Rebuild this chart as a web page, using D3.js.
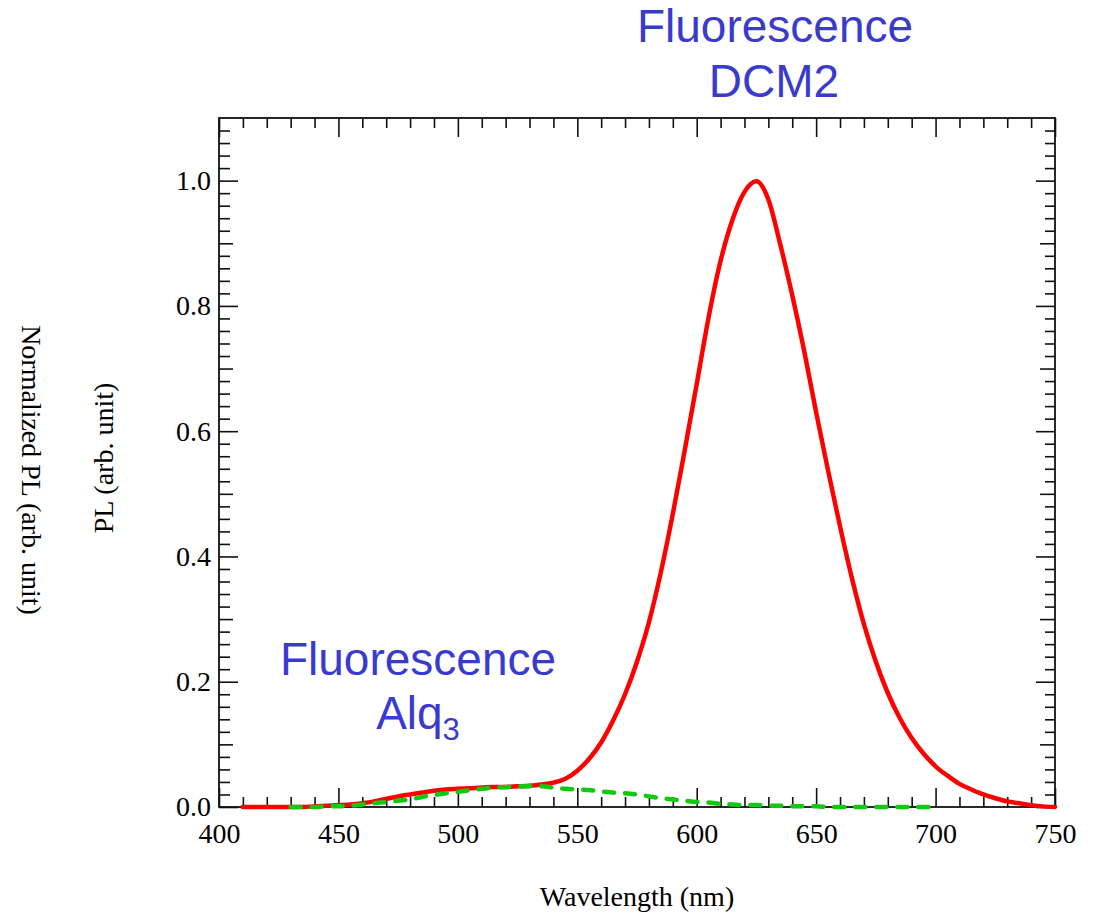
<!DOCTYPE html>
<html>
<head>
<meta charset="utf-8">
<script src="https://cdn.jsdelivr.net/npm/d3@7"></script>
<style>
  body { margin: 0; background: #fff; }
  text { font-family: "Liberation Serif", "Times New Roman", serif; }
  .note { font-family: "Liberation Sans", Arial, sans-serif; fill: #3a3acf; }
</style>
</head>
<body>
<div id="chart"></div>
<script>
// wavelength grid (nm) and the two spectra
const wlDCM2 = [410, 415, 420, 425, 430, 435, 440, 445, 450, 455, 460, 465, 470, 475, 480, 485, 490, 495, 500,
  505, 510, 515, 520, 525, 530, 535, 540, 545, 550, 555, 560, 565, 570, 575, 580, 585, 590, 595, 600,
  605, 610, 615, 620, 625, 630, 635, 640, 645, 650, 655, 660, 665, 670, 675, 680, 685, 690, 695, 700,
  705, 710, 715, 720, 725, 730, 735, 740, 745, 750];
const plDCM2 = [0.000, 0.000, 0.000, 0.000, 0.000, 0.000, 0.001, 0.002, 0.003, 0.004, 0.006, 0.009, 0.013, 0.017, 0.020, 0.023, 0.026, 0.028, 0.029,
  0.030, 0.031, 0.032, 0.032, 0.033, 0.034, 0.036, 0.039, 0.045, 0.058, 0.077, 0.103, 0.138, 0.180, 0.232, 0.295, 0.375, 0.468, 0.570, 0.675,
  0.782, 0.872, 0.938, 0.982, 0.999, 0.970, 0.898, 0.817, 0.728, 0.630, 0.537, 0.448, 0.365, 0.292, 0.232, 0.182, 0.142, 0.110, 0.085, 0.065,
  0.050, 0.037, 0.028, 0.020, 0.014, 0.009, 0.006, 0.003, 0.001, 0.000];

const wlAlq3 = [430, 435, 440, 445, 450, 455, 460, 465, 470, 475, 480, 485, 490, 495, 500, 505, 510, 515, 520,
  525, 530, 535, 540, 545, 550, 555, 560, 565, 570, 575, 580, 585, 590, 595, 600, 605, 610, 615, 620,
  625, 630, 635, 640, 645, 650, 655, 660, 665, 670, 675, 680, 685, 690, 695, 700];
const plAlq3 = [0.000, 0.000, 0.000, 0.001, 0.001, 0.002, 0.004, 0.006, 0.008, 0.010, 0.012, 0.016, 0.019, 0.022, 0.024, 0.027, 0.029, 0.031, 0.032,
  0.033, 0.033, 0.033, 0.031, 0.029, 0.028, 0.027, 0.025, 0.023, 0.022, 0.020, 0.017, 0.014, 0.012, 0.010, 0.008, 0.007, 0.005, 0.004, 0.003,
  0.003, 0.002, 0.002, 0.001, 0.001, 0.001, 0.000, 0.000, 0.000, 0.000, 0.000, 0.000, 0.000, 0.000, 0.000, 0.000];

const xMajor = [400, 450, 500, 550, 600, 650, 700, 750];
const yMajor = [0, 0.2, 0.4, 0.6, 0.8, 1.0];

const W = 1093, H = 915;
const margin = { top: 118, right: 38, bottom: 108, left: 219 };
const width = W - margin.left - margin.right;
const height = H - margin.top - margin.bottom;

const svg = d3.select("#chart").append("svg")
  .attr("width", W)
  .attr("height", H);

const g = svg.append("g")
  .attr("transform", `translate(${margin.left},${margin.top})`);

const x = d3.scaleLinear().domain([400, 750]).range([0, width]);
const y = d3.scaleLinear().domain([0, 1.1]).range([height, 0]);

const xMinor = d3.range(400, 751, 10).filter(v => v % 50 !== 0);
const yMid = d3.range(1, 11, 2).map(v => v / 10);
const yMinor = d3.range(0, 56).map(v => +(v * 0.02).toFixed(2))
  .filter(v => Math.round(v * 100) % 10 !== 0);

function tickAxis(axis, vals, len, fmt) {
  return axis.tickValues(vals).tickSize(len).tickFormat(fmt ? null : "");
}

function drawTicks(sel) {
  sel.select(".domain").remove();
  sel.selectAll("line").attr("stroke", "#111").attr("stroke-width", 1.6);
  sel.selectAll("text").attr("fill", "#000").style("font-size", "28px")
    .style("font-family", "Liberation Serif, serif");
}

// bottom
g.append("g").attr("transform", `translate(0,${height})`)
  .call(tickAxis(d3.axisBottom(x), xMajor, -19, true).tickPadding(16).tickFormat(d3.format("d")))
  .call(drawTicks);
g.append("g").attr("transform", `translate(0,${height})`)
  .call(tickAxis(d3.axisBottom(x), xMinor, -10)).call(drawTicks);
// top
g.append("g").call(tickAxis(d3.axisTop(x), xMajor, -19)).call(drawTicks);
g.append("g").call(tickAxis(d3.axisTop(x), xMinor, -10)).call(drawTicks);
// left
g.append("g")
  .call(tickAxis(d3.axisLeft(y), yMajor, -19, true).tickPadding(8).tickFormat(d3.format(".1f")))
  .call(drawTicks);
g.append("g").call(tickAxis(d3.axisLeft(y), yMid, -14)).call(drawTicks);
g.append("g").call(tickAxis(d3.axisLeft(y), yMinor, -11)).call(drawTicks);
// right
g.append("g").attr("transform", `translate(${width},0)`)
  .call(tickAxis(d3.axisRight(y), yMajor, -19)).call(drawTicks);
g.append("g").attr("transform", `translate(${width},0)`)
  .call(tickAxis(d3.axisRight(y), yMid, -15)).call(drawTicks);
g.append("g").attr("transform", `translate(${width},0)`)
  .call(tickAxis(d3.axisRight(y), yMinor, -10)).call(drawTicks);

g.append("rect")
  .attr("width", width)
  .attr("height", height)
  .attr("fill", "none")
  .attr("stroke", "#111")
  .attr("stroke-width", 1.8);

const line = d3.line()
  .x(d => x(d[0]))
  .y(d => y(d[1]))
  .curve(d3.curveMonotoneX);

g.append("path")
  .datum(d3.zip(wlDCM2, plDCM2))
  .attr("fill", "none")
  .attr("stroke", "#ff0000")
  .attr("stroke-width", 4.5)
  .attr("stroke-linejoin", "round")
  .attr("stroke-linecap", "round")
  .attr("d", line);

g.append("path")
  .datum(d3.zip(wlAlq3, plAlq3))
  .attr("fill", "none")
  .attr("stroke", "#11c911")
  .attr("stroke-width", 4.5)
  .attr("stroke-dasharray", "10,11")
  .attr("stroke-linecap", "round")
  .attr("d", line);

// axis titles
svg.append("text")
  .attr("x", 637).attr("y", 906)
  .attr("text-anchor", "middle")
  .style("font-size", "28px")
  .text("Wavelength (nm)");

svg.append("text")
  .attr("transform", "translate(113,458) rotate(-90)")
  .attr("text-anchor", "middle")
  .style("font-size", "28px")
  .text("PL (arb. unit)");

svg.append("text")
  .attr("transform", "translate(22,470) rotate(90)")
  .attr("text-anchor", "middle")
  .style("font-size", "28px")
  .text("Normalized PL (arb. unit)");

// annotations
svg.append("text").attr("class", "note")
  .attr("x", 775).attr("y", 42)
  .attr("text-anchor", "middle")
  .style("font-size", "46px")
  .text("Fluorescence");
svg.append("text").attr("class", "note")
  .attr("x", 774).attr("y", 97)
  .attr("text-anchor", "middle")
  .style("font-size", "46px")
  .text("DCM2");

svg.append("text").attr("class", "note")
  .attr("x", 418).attr("y", 675)
  .attr("text-anchor", "middle")
  .style("font-size", "46px")
  .text("Fluorescence");
const alq = svg.append("text").attr("class", "note")
  .attr("x", 418).attr("y", 729)
  .attr("text-anchor", "middle")
  .style("font-size", "46px");
alq.append("tspan").text("Alq");
alq.append("tspan").attr("dy", 11).style("font-size", "31px").text("3");
</script>
</body>
</html>
